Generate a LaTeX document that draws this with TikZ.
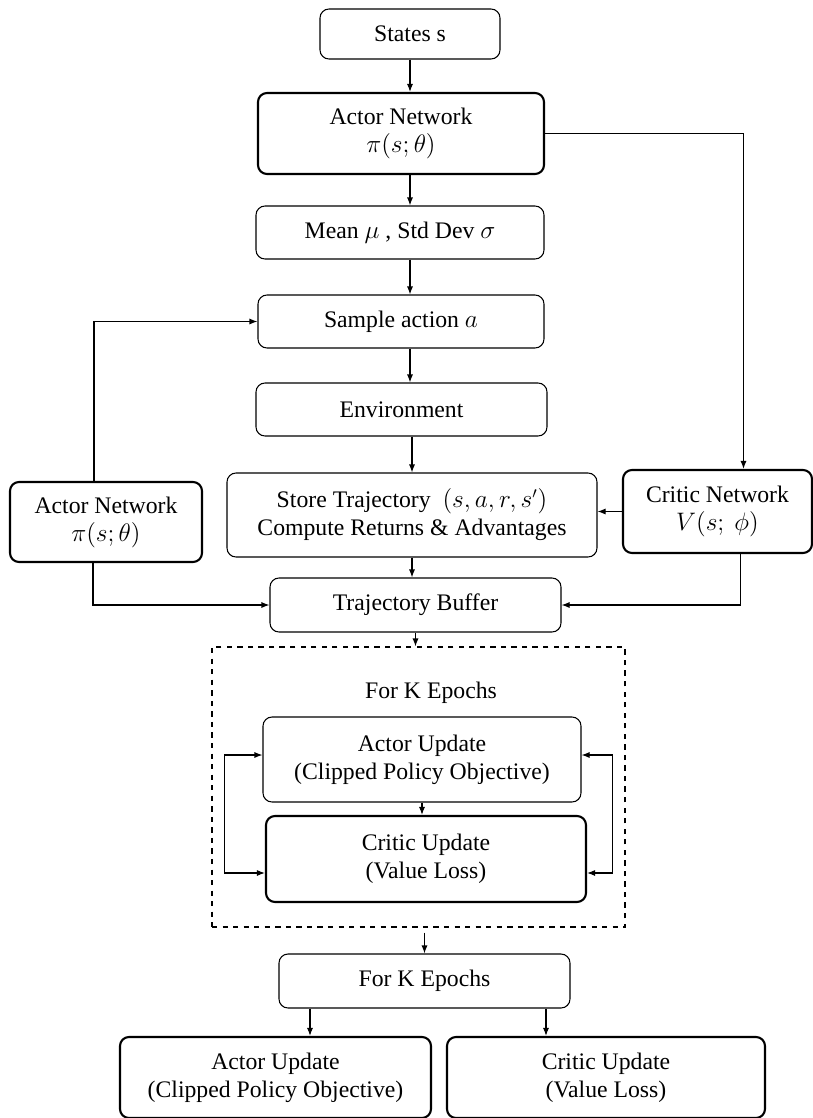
\documentclass[tikz,border=0pt]{standalone}
\usepackage{fontspec}
\setmainfont{Liberation Serif}
\usetikzlibrary{arrows.meta}

\begin{document}
\begin{tikzpicture}[->, >={Latex[length=1.6mm,width=1.2mm]}, line width=0.6pt,
    box/.style={rectangle, draw, rounded corners=0.18cm, align=center, font=\fontsize{13.5}{16}\selectfont},
    boldbox/.style={box, line width=1.2pt}]
    \useasboundingbox (0,0) rectangle (16.26,-22.36);

    % Rollout nodes
    \node[box, minimum width=3.6cm, minimum height=1cm] (states) at (8.2, -0.68) {States s};
    \node[boldbox, minimum width=5.72cm, minimum height=1.62cm] (actor) at (8.02, -2.67) {Actor Network\\ $\pi(s;\theta)$};
    \node[box, minimum width=5.76cm, minimum height=1.06cm] (meanstd) at (8.0, -4.65) {Mean $\mu$ , Std Dev $\sigma$};
    \node[box, minimum width=5.72cm, minimum height=1.06cm] (sample) at (8.02, -6.43) {Sample action $a$};
    \node[box, minimum width=5.82cm, minimum height=1.06cm] (env) at (8.03, -8.19) {Environment};
    \node[box, minimum width=7.4cm, minimum height=1.68cm] (store) at (8.24, -10.3) {Store Trajectory~~$(s,a,r,s')$\\ Compute Returns \& Advantages};
    \node[boldbox, minimum width=3.78cm, minimum height=1.66cm] (critic) at (14.35, -10.23) {Critic Network\\ $V(s;\ \phi)$};
    \node[boldbox, minimum width=3.84cm, minimum height=1.6cm] (actorold) at (2.12, -10.44) {Actor Network\\ $\pi(s;\theta)$};
    \node[box, minimum width=5.82cm, minimum height=1.08cm] (buffer) at (8.31, -12.1) {Trajectory Buffer};

    % Update loop
    \node[draw, dashed, minimum width=8.26cm, minimum height=5.6cm] (loop) at (8.37, -15.74) {};
    \node[font=\fontsize{13.5}{16}\selectfont] (looplabel) at (8.62, -13.86) {For K Epochs};
    \node[box, minimum width=6.36cm, minimum height=1.7cm] (actorupd) at (8.44, -15.19) {Actor Update\\ (Clipped Policy Objective)};
    \node[boldbox, minimum width=6.4cm, minimum height=1.72cm] (criticupd) at (8.52, -17.18) {Critic Update\\ (Value Loss)};

    % Final updates
    \node[box, minimum width=5.82cm, minimum height=1.08cm] (epochs) at (8.49, -19.62) {For K Epochs};
    \node[boldbox, minimum width=6.22cm, minimum height=1.62cm] (actorfin) at (5.51, -21.55) {Actor Update\\ (Clipped Policy Objective)};
    \node[boldbox, minimum width=6.36cm, minimum height=1.62cm] (criticfin) at (12.12, -21.55) {Critic Update\\ (Value Loss)};

    % Edges
    \draw (states.south) -- (states.south |- actor.north);
    \draw (actor.south -| states) -- (states |- meanstd.north);
    \draw (meanstd.south -| states) -- (states |- sample.north);
    \draw (sample.south -| states) -- (states |- env.north);
    \draw (env.south -| store) -- (store.north);
    \draw (actor.east) -| ([xshift=0.52cm]critic.north);
    \draw (critic.west) -- (critic.west -| store.east);
    \draw ([xshift=-0.24cm]actorold.north) |- (sample.west);
    \draw (store.south) -- (store.south |- buffer.north);
    \draw ([xshift=-0.26cm]actorold.south) |- (buffer.west);
    \draw ([xshift=0.46cm]critic.south) |- (buffer.east);
    \draw (buffer.south) -- (buffer.south |- loop.north);

    % Edges in the loop
    \draw (actorupd.south) -- (actorupd.south |- criticupd.north);
    \draw[<->] ([yshift=0.09cm]actorupd.west) -- ++(-0.76,0) |- ([yshift=-0.28cm]criticupd.west);
    \draw[<->] ([yshift=0.09cm]actorupd.east) -- ++(0.62,0) |- ([yshift=-0.28cm]criticupd.east);

    % Edges to final updates
    \draw ([yshift=-0.1cm]loop.south -| epochs) -- (epochs.north);
    \draw ([xshift=-2.29cm]epochs.south) -- ([xshift=-2.29cm]epochs.south |- actorfin.north);
    \draw ([xshift=2.43cm]epochs.south) -- ([xshift=2.43cm]epochs.south |- criticfin.north);
\end{tikzpicture}
\end{document}
